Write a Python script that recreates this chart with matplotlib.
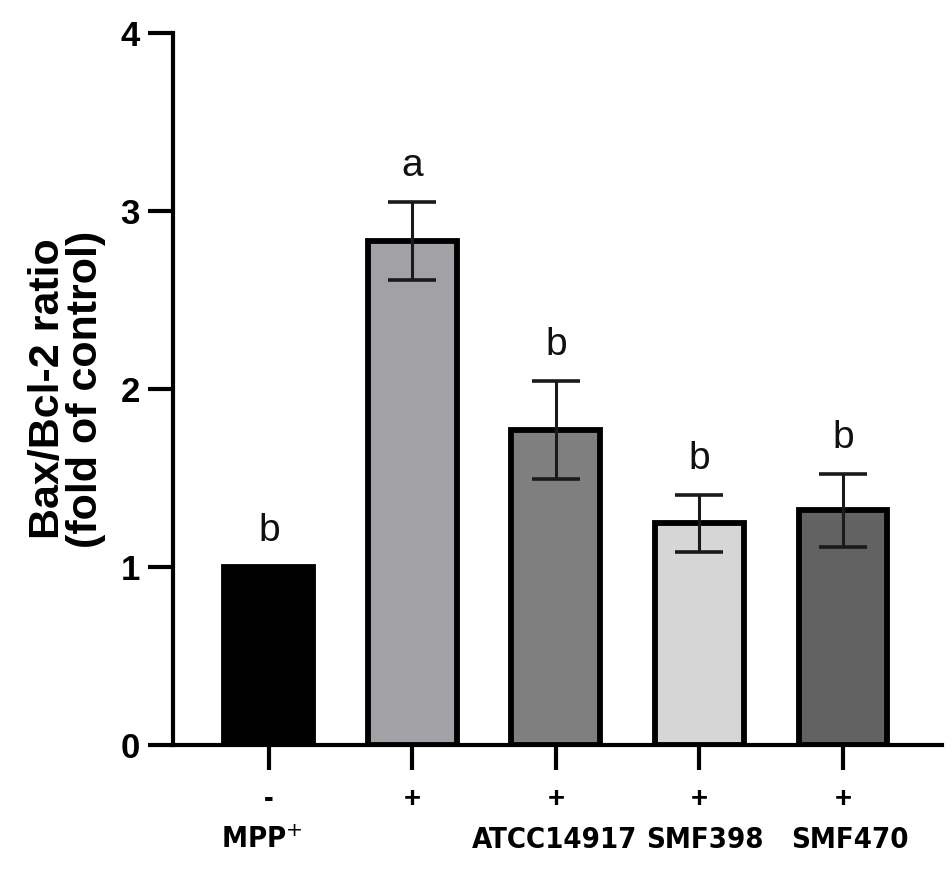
import matplotlib
matplotlib.use("Agg")
import matplotlib.pyplot as plt
from matplotlib.transforms import blended_transform_factory

mpp = ["-", "+", "+", "+", "+"]
groups = ["MPP$^{+}$", "", "ATCC14917", "SMF398", "SMF470"]
values = [1.0, 2.83, 1.77, 1.245, 1.32]
errors = [0.0, 0.22, 0.275, 0.16, 0.205]
letters = ["b", "a", "b", "b", "b"]
colors = ["#000000", "#a2a2a6", "#7f7f7f", "#d6d6d6", "#626262"]
yticks = [0, 1, 2, 3, 4]

plt.rcParams['font.family'] = ['Liberation Sans', 'DejaVu Sans']
plt.rcParams['font.stretch'] = 'normal'

fig = plt.figure(figsize=(9.52, 8.76), dpi=100)
ax = fig.add_axes([0.1817, 0.1495, 0.8078, 0.8128])

x = list(range(len(values)))
ax.bar(x, values, width=0.62, color=colors, edgecolor="black", linewidth=4.2, zorder=2)
for xi, v, e in zip(x, values, errors):
    if e > 0:
        ax.errorbar(xi, v, yerr=e, fmt="none", ecolor="#1a1a1a", elinewidth=2.2,
                    capsize=17, capthick=2.6, zorder=3)
for xi, v, e, l in zip(x, values, errors, letters):
    ax.annotate(l, (xi, v + e), xytext=(0, 13), textcoords="offset points",
                ha="center", va="bottom", fontsize=28, color="#111111")

ax.set_xlim(-0.669, 4.69)
ax.set_ylim(0, 4)
ax.set_yticks(yticks)
ax.set_yticklabels([str(t) for t in yticks], fontsize=25, fontweight="bold")
ax.set_xticks(x)
ax.set_xticklabels(mpp, fontsize=21, fontweight="bold")
ax.tick_params(axis="both", length=18, width=3, direction="out")
ax.tick_params(axis="y", pad=6)
ax.tick_params(axis="x", pad=11)
for s in ["top", "right"]:
    ax.spines[s].set_visible(False)
for s in ["left", "bottom"]:
    ax.spines[s].set_linewidth(3)

trans = blended_transform_factory(ax.transData, fig.transFigure)
gx = [-0.05, 1, 1.99, 3.04, 4.05]
for xi, g in zip(gx, groups):
    if g:
        ax.text(xi, 1 - 840/876, g, transform=trans, ha="center", va="center",
                fontsize=21, fontweight="bold", fontstretch="condensed",
                family=['DejaVu Sans'])

ax.set_ylabel("Bax/Bcl-2 ratio\n(fold of control)", fontsize=31, fontweight="bold",
              labelpad=10, linespacing=0.95)

fig.savefig("out.png", dpi=100)
